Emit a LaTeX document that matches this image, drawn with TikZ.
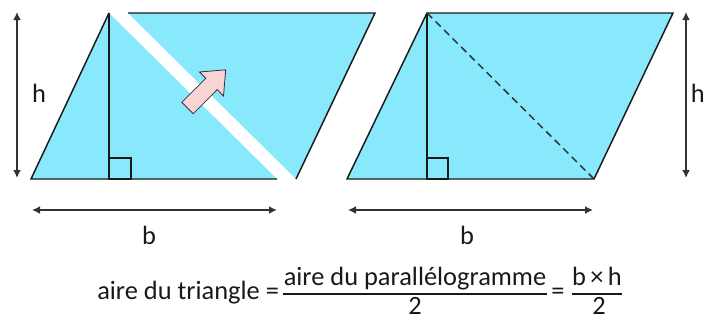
\documentclass[tikz,border=0pt]{standalone}
\usepackage{fontspec}
\setmainfont{Carlito}
\usetikzlibrary{arrows.meta}
\definecolor{figline}{RGB}{25,25,25}
\definecolor{figfill}{RGB}{136,232,252}
\definecolor{figdim}{RGB}{50,50,50}
\definecolor{figpush}{RGB}{250,212,212}
\tikzset{
  piece/.style ={fill=figfill},
  edge/.style  ={draw=figline, line width=1.1pt, line join=miter},
  diag/.style  ={draw=figdim, line width=1.1pt, dash pattern=on 5.5pt off 3.5pt},
  dim/.style   ={draw=figdim, line width=1.5pt, {Latex[length=6pt,width=6pt]}-{Latex[length=6pt,width=6pt]}},
  lab/.style   ={font=\fontsize{19.8}{24}\selectfont, inner sep=0pt, text=figline},
  bar/.style   ={draw=figline, line width=1.4pt},
  push/.style  ={fill=figpush, draw=figdim, line width=0.6pt, line join=miter},
}
\begin{document}
\begin{tikzpicture}[x=0.75pt, y=-0.75pt]
  \useasboundingbox (0,0) rectangle (706,322);
  % left: the triangle and the other half moved off
  \coordinate (tA) at (31,179);
  \coordinate (tC) at (109,13);
  \coordinate (tB) at (277,179);
  \coordinate (tH) at (109,179);
  \coordinate (mA) at (128,13);
  \coordinate (mB) at (375,13);
  \coordinate (mC) at (296,179);
  \fill[piece] (tA) -- (tC) -- (tB) -- cycle;
  \draw[edge] (tB) -- (tA) -- (tC);
  \fill[piece] (mA) -- (mB) -- (mC) -- cycle;
  \draw[edge] (mA) -- (mB) -- (mC);
  \draw[edge] (tC) -- (tH);
  \draw[edge] (tH) rectangle ++(22,-21);
  \draw[push] (181.8,102.3) -- (193.2,113.7) -- (217.2,89.6) -- (223.5,96.0)
    -- (225.7,69.8) -- (199.5,72.0) -- (205.8,78.3) -- cycle;
  % right: the whole parallelogram
  \coordinate (pA) at (347,179);
  \coordinate (pD) at (427,13);
  \coordinate (pC) at (673,13);
  \coordinate (pB) at (594,179);
  \coordinate (pH) at (427,179);
  \draw[piece,edge] (pA) -- (pD) -- (pC) -- (pB) -- cycle;
  \draw[edge] (pD) -- (pH);
  \draw[edge] (pH) rectangle ++(21,-21);
  \draw[diag] (pD) -- (pB);
  % dimensions
  \coordinate (hl1) at (17,12);
  \coordinate (hl2) at (17,178);
  \coordinate (hr1) at (686,12);
  \coordinate (hr2) at (686,178);
  \coordinate (bl1) at (32,210);
  \coordinate (bl2) at (277,210);
  \coordinate (br1) at (348,210);
  \coordinate (br2) at (593,210);
  \draw[dim] (hl1) -- (hl2);
  \draw[dim] (hr1) -- (hr2);
  \draw[dim] (bl1) -- (bl2);
  \draw[dim] (br1) -- (br2);
  \node[lab,anchor=base] (hleft) at (39,102) {h};
  \node[lab,anchor=base east] (hright) at (705,102) {h};
  \node[lab,anchor=base] (bleft) at (149,244) {b};
  \node[lab,anchor=base] (bright) at (467,244) {b};
  % formula
  \node[lab,anchor=base west] (aire) at (97,299) {aire du triangle =};
  \node[lab,anchor=base] (num1) at (415,285) {aire du parallélogramme};
  \node[lab,anchor=base] (den1) at (415,314) {2};
  \draw[bar] (283,294) -- (547,294);
  \node[lab,anchor=base] (eq2) at (558,299) {=};
  \node[lab,anchor=base] (num2) at (597,285) {b\,×\,h};
  \node[lab,anchor=base] (den2) at (599,314) {2};
  \draw[bar] (572,294) -- (622,294);
\end{tikzpicture}
\end{document}
